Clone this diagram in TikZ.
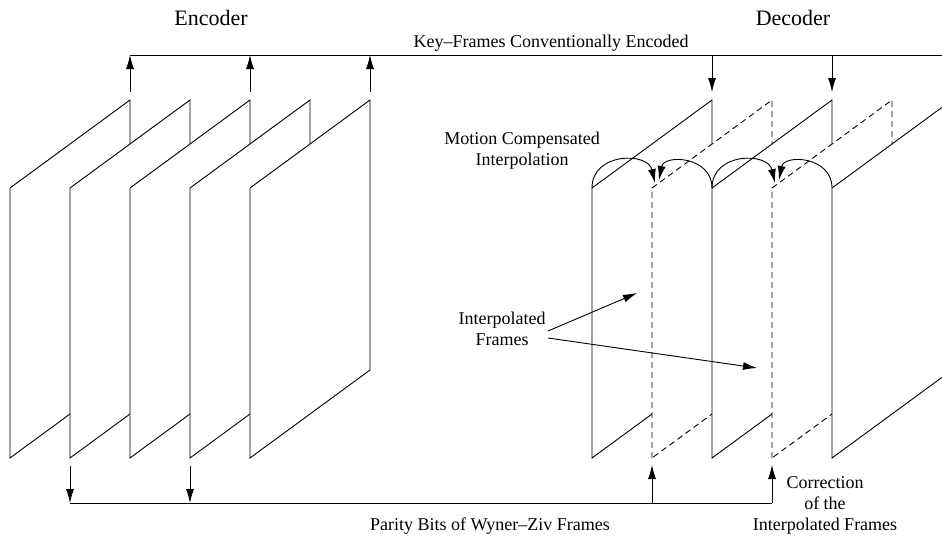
\documentclass[tikz,border=0pt]{standalone}
\usepackage{fontspec}
\setmainfont{Liberation Serif}
\usetikzlibrary{arrows.meta}
\begin{document}
\begin{tikzpicture}[x=1pt,y=-1pt,
  pane/.style={draw=black, fill=white, line width=0.9pt, line join=miter},
  ipane/.style={pane, dash pattern=on 6pt off 4pt},
  link/.style={draw=black, line width=0.9pt},
  arr/.style={link, -{Latex[length=14pt,width=8pt]}},
  title/.style={font=\rmfamily\fontsize{22}{26}\selectfont, inner sep=0pt},
  lbl/.style={font=\rmfamily\fontsize{18}{21}\selectfont, align=center, inner sep=0pt},
]
\useasboundingbox (0,0) rectangle (942,538);
\clip (0,0) rectangle (942,538);

% encoder: five frames, back to front
\foreach \x in {10,70,130,190,250}
  \filldraw[pane] (\x,458) -- (\x,188) -- ++(120,-88) -- ++(0,270) -- cycle;

% decoder: key frames solid, interpolated frames dashed
\filldraw[pane]  (592,458) -- (592,188) -- ++(120,-88) -- ++(0,270) -- cycle;
\filldraw[ipane] (652,458) -- (652,188) -- ++(120,-88) -- ++(0,270) -- cycle;
\filldraw[pane]  (712,458) -- (712,188) -- ++(120,-88) -- ++(0,270) -- cycle;
\filldraw[ipane] (772,458) -- (772,188) -- ++(120,-88) -- ++(0,270) -- cycle;
\filldraw[pane]  (832,458) -- (832,188) -- ++(120,-88) -- ++(0,270) -- cycle;

% labels
\node[title] (enc) at (211,18) {Encoder};
\node[title] (dec) at (793,18) {Decoder};
\node[lbl] (key) at (551,43) {Key–Frames Conventionally Encoded};
\node[lbl] (mci) at (522,151) {Motion Compensated\\Interpolation};
\node[lbl] (ifr) at (502,329) {Interpolated\\Frames};
\node[lbl] (par) at (490,526) {Parity Bits of Wyner–Ziv Frames};
\node[lbl] (cor) at (825,505) {Correction\\of the\\Interpolated Frames};

% key-frame channel
\coordinate (kbusL) at (130,55);
\coordinate (kbusR) at (942,55);
\coordinate (k1) at (130,92);
\coordinate (k3) at (250,92);
\coordinate (k5) at (370,92);
\coordinate (d1) at (712,92);
\coordinate (d3) at (832,92);
\draw[link] (kbusL) -- (kbusR);
\foreach \c in {k1,k3,k5}
  \draw[arr] (\c) -- (\c |- kbusL);
\foreach \c in {d1,d3}
  \draw[arr] (\c |- kbusL) -- (\c);

% parity channel
\coordinate (pbusL) at (70,503);
\coordinate (pbusR) at (772,503);
\coordinate (w2) at (70,466);
\coordinate (w4) at (190,466);
\coordinate (i2) at (652,465);
\coordinate (i4) at (772,465);
\draw[link] (pbusL) -- (pbusR);
\foreach \c in {w2,w4}
  \draw[arr] (\c) -- (\c |- pbusL);
\foreach \c in {i2,i4}
  \draw[arr] (\c |- pbusL) -- (\c);

% motion compensated interpolation arcs
\coordinate (a1) at (592,188);
\coordinate (a2) at (712,188);
\coordinate (a3) at (832,188);
\coordinate (t1) at (655,183);
\coordinate (t2) at (659,180);
\coordinate (t3) at (775,183);
\coordinate (t4) at (779,180);
\draw[arr] (a1) .. controls (592,152) and (648,152) .. (t1);
\draw[arr] (a2) .. controls (712,156) and (664,154) .. (t2);
\draw[arr] (a2) .. controls (712,152) and (768,152) .. (t3);
\draw[arr] (a3) .. controls (832,156) and (784,154) .. (t4);

% pointers to the interpolated frames
\coordinate (s1) at (548,331);
\coordinate (s2) at (548,338);
\coordinate (p1) at (637,293);
\coordinate (p2) at (757,368);
\draw[arr] (s1) -- (p1);
\draw[arr] (s2) -- (p2);
\end{tikzpicture}
\end{document}
